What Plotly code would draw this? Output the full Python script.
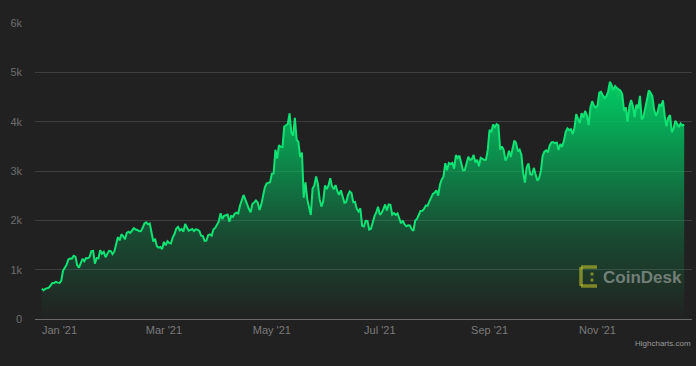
import pandas as pd
import plotly.graph_objects as go

start_date = "2020-12-22"
dec_2020 = [612, 584, 611, 626, 635, 683, 730, 731, 751, 737]
jan = [730, 775, 979, 1041, 1100, 1208, 1225, 1224, 1281, 1262,
       1090, 1043, 1130, 1218, 1171, 1233, 1230, 1257, 1377, 1382,
       1121, 1236, 1230, 1392, 1324, 1362, 1253, 1331, 1382, 1377, 1314]
feb = [1369, 1515, 1660, 1594, 1718, 1677, 1614, 1746, 1768, 1744,
       1783, 1843, 1814, 1805, 1779, 1781, 1848, 1937, 1960, 1919,
       1935, 1781, 1570, 1626, 1475, 1446, 1459, 1416]
mar = [1564, 1492, 1575, 1541, 1533, 1654, 1723, 1834, 1868, 1795,
       1825, 1771, 1924, 1854, 1791, 1806, 1823, 1782, 1817, 1812,
       1787, 1691, 1679, 1582, 1587, 1700, 1715, 1691, 1819, 1846, 1919]
apr = [1977, 2142, 2028, 2093, 2107, 2118, 1971, 2088, 2071, 2135,
       2157, 2139, 2300, 2432, 2514, 2423, 2318, 2235, 2162, 2330,
       2364, 2403, 2363, 2211, 2317, 2534, 2662, 2746, 2756, 2772]
may = [2945, 2950, 3431, 3253, 3522, 3490, 3484, 3902, 3928, 3952,
       4168, 3785, 3715, 4079, 3638, 3588, 3282, 3374, 2460, 2772,
       2430, 2295, 2109, 2643, 2706, 2888, 2736, 2424, 2279, 2386, 2706]
jun = [2634, 2706, 2855, 2689, 2630, 2715, 2590, 2517, 2608, 2471,
       2354, 2372, 2510, 2587, 2553, 2367, 2372, 2231, 2178, 2245,
       1888, 1874, 1989, 1988, 1813, 1829, 1978, 2084, 2160, 2275]
jul = [2114, 2150, 2226, 2322, 2198, 2324, 2315, 2117, 2146, 2111,
       2140, 2037, 1940, 1994, 1918, 1878, 1898, 1895, 1820, 1788,
       1995, 2027, 2124, 2188, 2191, 2233, 2300, 2298, 2383, 2461, 2536]
aug = [2561, 2610, 2502, 2725, 2827, 2890, 3158, 3013, 3163, 3143,
       3164, 3049, 3322, 3265, 3310, 3156, 3013, 3017, 3182, 3287,
       3226, 3242, 3324, 3172, 3228, 3096, 3269, 3245, 3225, 3229, 3433]
sep = [3835, 3787, 3941, 3889, 3951, 3927, 3432, 3496, 3428, 3211,
       3270, 3410, 3285, 3429, 3614, 3569, 3398, 3433, 3330, 2958,
       2764, 3077, 3155, 2931, 2926, 3063, 2934, 2807, 2853, 3001]
oct_ = [3307, 3391, 3418, 3380, 3518, 3581, 3587, 3563, 3576, 3425,
        3545, 3492, 3606, 3787, 3865, 3830, 3847, 3748, 3877, 4155,
        4057, 3972, 4172, 4082, 4218, 4131, 3930, 4288, 4415, 4325, 4288]
nov = [4324, 4587, 4606, 4537, 4477, 4518, 4611, 4808, 4739, 4636,
       4721, 4680, 4648, 4626, 4557, 4217, 4288, 3999, 4302, 4438,
       4319, 4094, 4343, 4271, 4525, 4045, 4099, 4294, 4445, 4632]
dec_2021 = [4587, 4519, 4240, 4119, 4198, 4358, 4309, 4433, 4112, 3906,
            4084, 4134, 3786, 3862, 4019, 3961, 3891, 3961, 3922, 3942]

tick_dates = ["2021-01-01", "2021-03-01", "2021-05-01", "2021-07-01", "2021-09-01", "2021-11-01"]
tick_labels = ["Jan '21", "Mar '21", "May '21", "Jul '21", "Sep '21", "Nov '21"]
y_ticks = [0, 1000, 2000, 3000, 4000, 5000, 6000]
y_labels = ["0", "1k", "2k", "3k", "4k", "5k", "6k"]

prices = (dec_2020 + jan + feb + mar + apr + may + jun + jul + aug + sep
          + oct_ + nov + dec_2021)
dates = pd.date_range(start_date, periods=len(prices), freq="D")

W, H = 696, 366
L, R, T, B = 35, 692, 23, 319
jan1 = pd.Timestamp("2021-01-01")
ppd = 1.7697
x0 = jan1 + pd.Timedelta(days=(L - 59.5) / ppd)
x1 = jan1 + pd.Timedelta(days=(R - 59.5) / ppd)

fig = go.Figure()
fig.add_trace(go.Scatter(
    x=dates, y=prices, mode="lines",
    line=dict(color="#10e374", width=2),
    fill="tozeroy",
    fillgradient=dict(type="vertical", start=0, stop=max(prices),
                      colorscale=[[0, "rgba(0,200,100,0.0)"],
                                  [0.35, "rgba(0,200,100,0.25)"],
                                  [1, "rgba(0,205,100,1)"]]),
    hoverinfo="skip", showlegend=False,
))

def px(x):
    return (x - L) / (R - L)

def py(y):
    return (B - y) / (B - T)

shapes = []
logo_col = "rgba(205,205,40,0.55)"
for (xa, ya, xb, yb) in [(581, 267, 581, 286), (581, 267, 597, 267), (581, 286, 597, 286)]:
    shapes.append(dict(type="line", xref="paper", yref="paper",
                       x0=px(xa), y0=py(ya), x1=px(xb), y1=py(yb),
                       line=dict(color=logo_col, width=3.5)))
for (cx, cy) in [(592, 274), (592, 280)]:
    shapes.append(dict(type="circle", xref="paper", yref="paper",
                       x0=px(cx - 1.7), x1=px(cx + 1.7), y0=py(cy - 1.7), y1=py(cy + 1.7),
                       fillcolor=logo_col, line=dict(width=0)))

fig.update_layout(
    width=W, height=H,
    margin=dict(l=L, r=W - R, t=T, b=H - B),
    paper_bgcolor="#212121", plot_bgcolor="#212121",
    font=dict(family="Liberation Sans, Arial, sans-serif", color="#777777", size=11),
    xaxis=dict(range=[x0, x1], tickvals=tick_dates, ticktext=tick_labels,
               showgrid=False, zeroline=False, showline=True, linecolor="#6a6a6a",
               linewidth=1, ticks="", tickfont=dict(size=11, color="#7a7a7a"),
               ticklabelstandoff=1),
    yaxis=dict(range=[0, 6000], tickvals=y_ticks, ticktext=y_labels,
               showgrid=True, gridcolor="#3e3e3e", gridwidth=1, zeroline=False,
               showline=False, ticks="", tickfont=dict(size=11, color="#6e6e6e"),
               ticklabelstandoff=12),
    shapes=shapes,
    annotations=[
        dict(text="<b>CoinDesk</b>", xref="paper", yref="paper",
             x=px(601), y=py(277), xanchor="left", yanchor="middle",
             showarrow=False, font=dict(size=17, color="rgba(200,200,200,0.5)",
                                        family="Liberation Sans, Arial, sans-serif")),
        dict(text="Highcharts.com", xref="paper", yref="paper",
             x=px(693), y=py(343), xanchor="right", yanchor="middle",
             showarrow=False, font=dict(size=8, color="#999999")),
    ],
)

fig.write_html("out.html", config={"displayModeBar": False}, post_script=(
    "document.body.style.margin='0';document.body.style.padding='0';"
    "document.body.style.background='#212121';"))
